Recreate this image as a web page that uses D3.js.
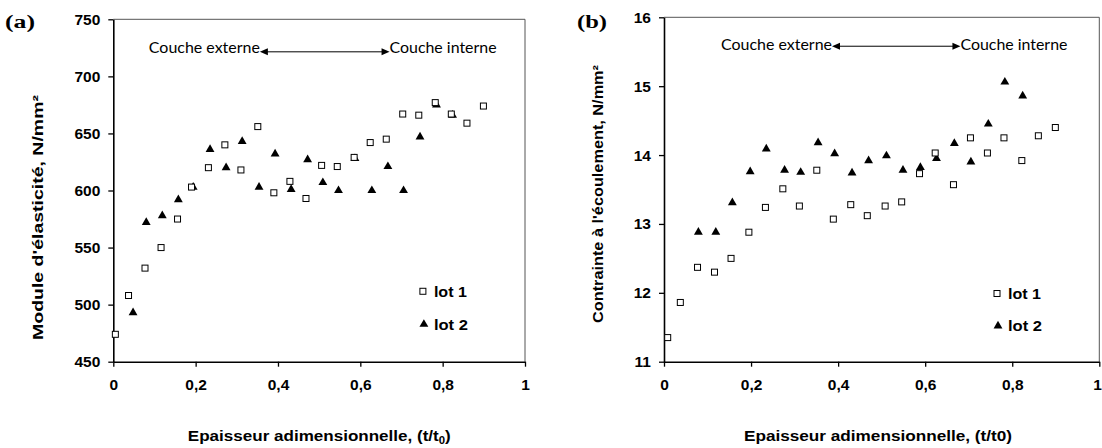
<!DOCTYPE html>
<html>
<head>
<meta charset="utf-8">
<script src="https://cdn.jsdelivr.net/npm/d3@7"></script>
<style>
  body { margin: 0; background: #fff; }
  text { fill: #000; }
</style>
</head>
<body>
<div id="chart"></div>
<script>
// Panel (a) : module d'élasticité
const thickA1 = [0.005, 0.037, 0.077, 0.116, 0.156, 0.19, 0.231, 0.271, 0.310, 0.351, 0.39, 0.429,
                 0.468, 0.506, 0.544, 0.585, 0.624, 0.663, 0.703, 0.742, 0.782, 0.821, 0.859, 0.899];
const moduleLot1 = [474, 508, 532, 550, 575, 603, 620, 640, 618, 656, 598, 608,
                    593, 622, 621, 629, 642, 645, 667, 666, 677, 667, 659, 674];
const thickA2 = [0.048, 0.080, 0.119, 0.158, 0.194, 0.235, 0.274, 0.313, 0.354, 0.393, 0.432,
                 0.472, 0.509, 0.547, 0.587, 0.628, 0.667, 0.705, 0.745, 0.785, 0.824];
const moduleLot2 = [493, 572, 578, 592, 603, 636, 620, 643, 603, 632, 601,
                    627, 607, 600, 628, 600, 621, 600, 647, 675, 666];

// Panel (b) : contrainte à l'écoulement
const thickB1 = [0.0085, 0.0375, 0.077, 0.116, 0.154, 0.195, 0.233, 0.273, 0.311, 0.351, 0.389, 0.429,
                 0.467, 0.508, 0.546, 0.587, 0.623, 0.665, 0.704, 0.743, 0.781, 0.822, 0.860, 0.899];
const stressLot1 = [11.35, 11.86, 12.37, 12.30, 12.50, 12.88, 13.24, 13.51, 13.26, 13.78, 13.07, 13.28,
                    13.12, 13.26, 13.32, 13.73, 14.03, 13.57, 14.25, 14.03, 14.25, 13.92, 14.28, 14.40];
const thickB2 = [0.079, 0.119, 0.157, 0.198, 0.235, 0.277, 0.314, 0.354, 0.392, 0.432,
                 0.470, 0.511, 0.549, 0.589, 0.626, 0.667, 0.705, 0.745, 0.783, 0.824];
const stressLot2 = [12.88, 12.88, 13.31, 13.76, 14.09, 13.78, 13.75, 14.18, 14.02, 13.74,
                    13.92, 13.99, 13.78, 13.82, 13.95, 14.17, 13.90, 14.45, 15.06, 14.86];

const xTicks = [0, 0.2, 0.4, 0.6, 0.8, 1];
const yTicksA = [450, 500, 550, 600, 650, 700, 750];
const yTicksB = [11, 12, 13, 14, 15, 16];

const W = 1102, H = 448;
const svg = d3.select("#chart").append("svg")
    .attr("width", W)
    .attr("height", H);

const sans = "'Liberation Sans', Arial, sans-serif";
const fmt = d => String(d).replace(".", ",");

// helper: text forced to a measured width
function label(g, x, y, str, size, width, opts = {}) {
    const t = g.append("text")
        .attr("x", x).attr("y", y)
        .attr("text-anchor", opts.anchor || "start")
        .style("font-family", opts.family || sans)
        .style("font-weight", opts.weight || "bold")
        .style("font-size", size + "px")
        .text(str);
    if (width) t.attr("textLength", width).attr("lengthAdjust", "spacingAndGlyphs");
    if (opts.transform) t.attr("transform", opts.transform);
    return t;
}

function panel(p) {
    const g = svg.append("g").attr("transform", `translate(${p.left},${p.top})`);
    const x = d3.scaleLinear().domain([0, 1]).range([0, p.w]);
    const y = d3.scaleLinear().domain(p.yDomain).range([p.h, 0]);

    // top & right frame
    g.append("path")
        .attr("d", `M0,0H${p.w}V${p.h}`)
        .attr("fill", "none")
        .attr("stroke", "#555")
        .attr("stroke-width", 1);

    const xAxis = g.append("g")
        .attr("transform", `translate(0,${p.h})`)
        .call(d3.axisBottom(x).tickValues(xTicks).tickFormat(fmt).tickSize(5).tickSizeOuter(0).tickPadding(12));
    const yAxis = g.append("g")
        .call(d3.axisLeft(y).tickValues(p.yTicks).tickFormat(fmt).tickSize(5).tickSizeOuter(0).tickPadding(8));
    [xAxis, yAxis].forEach(a => {
        a.select(".domain").attr("stroke", "#000").attr("stroke-width", 1.6);
        a.selectAll(".tick line").attr("stroke", "#000").attr("stroke-width", 1.3);
        a.selectAll("text")
            .style("font-family", sans)
            .style("font-weight", "bold")
            .style("font-size", "15.5px")
            .attr("fill", "#000");
    });
    // last x label sits against the page edge on the right panel
    if (p.lastTickEnd) {
        xAxis.selectAll(".tick text").filter(d => d === 1)
            .attr("text-anchor", "end").attr("x", 2);
    }

    // lot 2 triangles
    const tri = d3.symbol().type(d3.symbolTriangle).size(34);
    g.append("g").selectAll("path")
        .data(p.x2.map((d, i) => [d, p.y2[i]]))
        .join("path")
        .attr("d", tri)
        .attr("transform", d => `translate(${x(d[0])},${y(d[1])})`)
        .attr("fill", "#000");

    // lot 1 squares
    g.append("g").selectAll("rect")
        .data(p.x1.map((d, i) => [d, p.y1[i]]))
        .join("rect")
        .attr("x", d => x(d[0]) - 3)
        .attr("y", d => y(d[1]) - 3)
        .attr("width", 6).attr("height", 6)
        .attr("fill", "#fff")
        .attr("stroke", "#000")
        .attr("stroke-width", 1);

    // couche externe <-> couche interne
    const ay = y(p.arrowY);
    const ax0 = x(p.arrowX[0]), ax1 = x(p.arrowX[1]);
    g.append("line")
        .attr("x1", ax0 + 4).attr("x2", ax1 - 4)
        .attr("y1", ay).attr("y2", ay)
        .attr("stroke", "#000").attr("stroke-width", 1);
    g.append("path").attr("d", `M${ax0},${ay}l8,-3.5v7z`).attr("fill", "#000");
    g.append("path").attr("d", `M${ax1},${ay}l-8,-3.5v7z`).attr("fill", "#000");
    label(g, ax0, ay + p.textDy, "Couche externe", 15, 111,
        { anchor: "end", weight: "normal", family: "Lato, 'Open Sans', sans-serif" });
    label(g, ax1, ay + p.textDy, "Couche interne", 15, 107,
        { weight: "normal", family: "Lato, 'Open Sans', sans-serif" });

    // legend
    const lx = x(p.legX);
    g.append("rect")
        .attr("x", lx - 3).attr("y", y(p.legY[0]) - 3)
        .attr("width", 6).attr("height", 6)
        .attr("fill", "#fff").attr("stroke", "#000");
    g.append("path")
        .attr("d", tri)
        .attr("transform", `translate(${lx + 1},${y(p.legY[1])})`)
        .attr("fill", "#000");
    label(g, lx + 11, y(p.legY[0]) + 5.5, "lot 1", 15, 33);
    label(g, lx + 11, y(p.legY[1]) + 5.5, "lot 2", 15, 34);

    // axis titles
    const xt = label(g, p.xTitleX, p.h + 79, "", 15, p.xTitleW, { anchor: "middle" });
    xt.append("tspan").text("Epaisseur adimensionnelle, (t/t");
    if (p.sub) {
        xt.append("tspan").attr("dy", 3).style("font-size", "10px").text("0");
        xt.append("tspan").attr("dy", -3).text(")");
    } else {
        xt.append("tspan").text("0)");
    }
    label(svg, 0, 0, p.yTitle, 15, p.yTitleW,
        { anchor: "middle", transform: `translate(${p.yTitlePos[0]},${p.yTitlePos[1]}) rotate(-90)` });

    // panel letter
    label(svg, p.tag[0], p.tag[1], p.tagText, 18, 30,
        { family: "'Liberation Serif', 'Times New Roman', serif" });
}

panel({
    left: 113.3, top: 19.3, w: 411.7, h: 342.4,
    yDomain: [450, 750], yTicks: yTicksA,
    x1: thickA1, y1: moduleLot1, x2: thickA2, y2: moduleLot2,
    arrowX: [0.356, 0.671], arrowY: 721.5, textDy: 1.5,
    legX: 0.752, legY: [511.7, 482.8],
    xTitleX: 206, xTitleW: 263, sub: true,
    yTitle: "Module d'élasticité, N/mm²", yTitleW: 245, yTitlePos: [43, 217.5],
    tag: [5, 27.5], tagText: "(a)"
});

panel({
    left: 664, top: 17.3, w: 435.3, h: 344.4,
    yDomain: [11, 16], yTicks: yTicksB,
    x1: thickB1, y1: stressLot1, x2: thickB2, y2: stressLot2,
    arrowX: [0.386, 0.681], arrowY: 15.58, textDy: 3.5,
    legX: 0.765, legY: [11.99, 11.52],
    xTitleX: 214, xTitleW: 268, sub: false, lastTickEnd: true,
    yTitle: "Contrainte à l'écoulement, N/mm²", yTitleW: 258, yTitlePos: [603, 194],
    tag: [577, 27.5], tagText: "(b)"
});
</script>
</body>
</html>
